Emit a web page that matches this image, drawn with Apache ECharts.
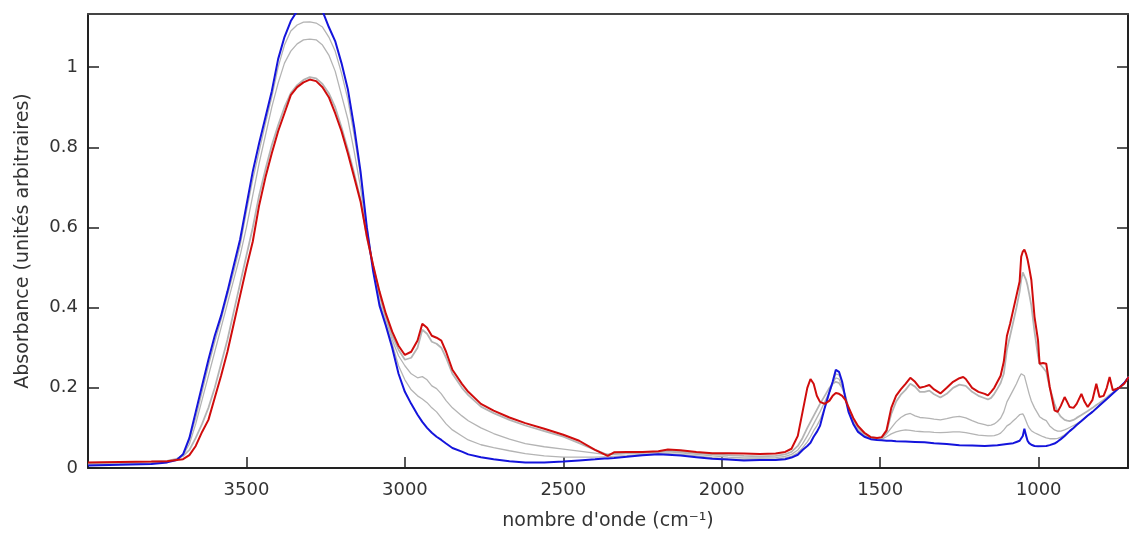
<!DOCTYPE html>
<html>
<head>
<meta charset="utf-8">
<script src="https://cdn.jsdelivr.net/npm/echarts@6/dist/echarts.min.js"></script>
<style>
html,body{margin:0;padding:0;background:#fff;}
#chart{width:1129px;height:537px;}
</style>
</head>
<body>
<div id="chart"></div>
<script>
// ---- data (wavenumber cm-1, absorbance) ----
const xTicks = [1000, 1500, 2000, 2500, 3000, 3500];
const yTicks = [0, 0.2, 0.4, 0.6, 0.8, 1];
const xTitle = "nombre d'onde (cm⁻¹)";
const yTitle = "Absorbance (unités arbitraires)";

const red = [[4000,0.014],[3900,0.015],[3800,0.016],[3750,0.017],[3720,0.02],[3700,0.022],[3680,0.032],[3660,0.055],[3640,0.09],[3620,0.12],[3600,0.175],[3580,0.23],[3560,0.29],[3540,0.36],[3520,0.43],[3500,0.5],[3480,0.565],[3460,0.655],[3440,0.725],[3420,0.785],[3400,0.84],[3380,0.885],[3360,0.93],[3340,0.95],[3320,0.962],[3300,0.969],[3280,0.965],[3260,0.95],[3240,0.925],[3220,0.885],[3200,0.84],[3180,0.785],[3160,0.725],[3140,0.665],[3120,0.578],[3100,0.505],[3080,0.44],[3060,0.385],[3040,0.34],[3020,0.305],[3000,0.282],[2980,0.29],[2960,0.318],[2945,0.36],[2930,0.35],[2915,0.33],[2900,0.325],[2885,0.318],[2870,0.29],[2850,0.245],[2820,0.21],[2800,0.19],[2760,0.16],[2720,0.143],[2670,0.126],[2620,0.112],[2560,0.098],[2500,0.083],[2450,0.068],[2400,0.045],[2370,0.034],[2360,0.03],[2340,0.039],[2300,0.04],[2250,0.04],[2200,0.042],[2170,0.046],[2130,0.044],[2080,0.04],[2030,0.037],[1980,0.037],[1930,0.036],[1880,0.035],[1830,0.036],[1800,0.04],[1780,0.048],[1760,0.08],[1745,0.14],[1730,0.2],[1720,0.222],[1710,0.21],[1700,0.18],[1690,0.165],[1675,0.16],[1660,0.168],[1650,0.18],[1640,0.187],[1630,0.185],[1620,0.18],[1610,0.17],[1600,0.152],[1585,0.125],[1570,0.105],[1550,0.088],[1530,0.077],[1510,0.075],[1495,0.077],[1480,0.094],[1465,0.15],[1450,0.18],[1435,0.196],[1420,0.21],[1405,0.225],[1390,0.215],[1375,0.2],[1360,0.203],[1345,0.207],[1330,0.196],[1310,0.186],[1290,0.2],[1270,0.215],[1250,0.224],[1238,0.227],[1230,0.222],[1210,0.2],[1190,0.19],[1170,0.185],[1160,0.181],[1150,0.19],[1140,0.2],[1130,0.215],[1120,0.23],[1110,0.265],[1100,0.33],[1090,0.36],[1080,0.395],[1070,0.43],[1060,0.465],[1055,0.527],[1050,0.54],[1045,0.545],[1040,0.535],[1035,0.52],[1030,0.5],[1023,0.469],[1013,0.377],[1002,0.319],[997,0.26],[986,0.262],[976,0.26],[965,0.202],[950,0.144],[940,0.14],[930,0.155],[918,0.177],[910,0.165],[902,0.152],[890,0.15],[880,0.16],[865,0.185],[855,0.165],[845,0.152],[830,0.17],[818,0.21],[808,0.177],[795,0.18],[785,0.2],[776,0.227],[766,0.194],[746,0.2],[730,0.21],[716,0.227]];

const blue = [[4000,0.006],[3900,0.008],[3800,0.01],[3750,0.014],[3720,0.02],[3700,0.034],[3680,0.075],[3660,0.14],[3640,0.205],[3620,0.27],[3600,0.33],[3580,0.38],[3560,0.44],[3540,0.505],[3520,0.57],[3500,0.655],[3480,0.74],[3460,0.81],[3440,0.875],[3420,0.94],[3400,1.02],[3380,1.075],[3360,1.115],[3340,1.14],[3320,1.15],[3300,1.152],[3280,1.15],[3260,1.14],[3240,1.1],[3220,1.065],[3200,1.01],[3180,0.945],[3160,0.85],[3140,0.74],[3120,0.6],[3100,0.49],[3080,0.405],[3060,0.355],[3040,0.3],[3020,0.235],[3000,0.19],[2980,0.16],[2960,0.133],[2945,0.115],[2930,0.1],[2915,0.088],[2900,0.078],[2885,0.07],[2870,0.061],[2850,0.05],[2820,0.041],[2800,0.034],[2760,0.027],[2720,0.022],[2670,0.017],[2620,0.014],[2560,0.014],[2500,0.016],[2450,0.019],[2400,0.022],[2370,0.024],[2360,0.024],[2340,0.025],[2300,0.028],[2250,0.032],[2200,0.034],[2170,0.033],[2130,0.031],[2080,0.027],[2030,0.023],[1980,0.021],[1930,0.019],[1880,0.02],[1830,0.02],[1800,0.022],[1780,0.026],[1760,0.033],[1745,0.045],[1730,0.055],[1720,0.063],[1710,0.078],[1700,0.09],[1690,0.105],[1675,0.15],[1660,0.19],[1650,0.215],[1640,0.245],[1636,0.248],[1630,0.24],[1620,0.215],[1610,0.175],[1600,0.14],[1585,0.11],[1570,0.09],[1550,0.078],[1530,0.072],[1510,0.07],[1495,0.069],[1480,0.068],[1465,0.068],[1450,0.067],[1420,0.066],[1390,0.065],[1360,0.064],[1330,0.062],[1290,0.06],[1250,0.057],[1210,0.056],[1170,0.055],[1130,0.057],[1100,0.06],[1080,0.062],[1070,0.065],[1060,0.068],[1055,0.072],[1050,0.08],[1045,0.098],[1040,0.082],[1035,0.068],[1030,0.062],[1023,0.058],[1013,0.055],[1002,0.054],[976,0.055],[965,0.057],[950,0.061],[940,0.066],[930,0.072],[918,0.08],[902,0.092],[890,0.1],[880,0.107],[865,0.117],[845,0.131],[830,0.14],[808,0.156],[785,0.172],[766,0.186],[746,0.2],[730,0.212],[716,0.227]];

const grayA = [[4000,0.013],[3900,0.014],[3800,0.016],[3750,0.018],[3720,0.023],[3700,0.03],[3680,0.045],[3660,0.075],[3640,0.11],[3620,0.15],[3600,0.2],[3580,0.26],[3560,0.32],[3540,0.39],[3520,0.46],[3500,0.53],[3480,0.6],[3460,0.68],[3440,0.745],[3420,0.805],[3400,0.855],[3380,0.9],[3360,0.935],[3340,0.955],[3320,0.968],[3300,0.975],[3280,0.972],[3260,0.958],[3240,0.935],[3220,0.9],[3200,0.85],[3180,0.795],[3160,0.735],[3140,0.67],[3120,0.575],[3100,0.505],[3080,0.435],[3060,0.375],[3040,0.33],[3020,0.295],[3000,0.27],[2980,0.275],[2960,0.3],[2945,0.345],[2930,0.335],[2915,0.315],[2900,0.31],[2885,0.3],[2870,0.275],[2850,0.235],[2820,0.2],[2800,0.182],[2760,0.153],[2720,0.137],[2670,0.12],[2620,0.106],[2560,0.092],[2500,0.078],[2450,0.062],[2400,0.045],[2370,0.036],[2360,0.034],[2340,0.036],[2300,0.038],[2250,0.039],[2200,0.041],[2170,0.043],[2130,0.041],[2080,0.037],[2030,0.034],[1980,0.032],[1930,0.03],[1880,0.029],[1830,0.03],[1800,0.034],[1780,0.04],[1760,0.055],[1745,0.075],[1730,0.1],[1720,0.115],[1710,0.13],[1700,0.145],[1690,0.16],[1675,0.18],[1660,0.2],[1650,0.21],[1640,0.215],[1630,0.212],[1620,0.2],[1610,0.18],[1600,0.15],[1585,0.12],[1570,0.1],[1550,0.085],[1530,0.077],[1510,0.075],[1495,0.076],[1480,0.09],[1465,0.135],[1450,0.165],[1435,0.183],[1420,0.195],[1405,0.21],[1390,0.203],[1375,0.19],[1360,0.19],[1345,0.193],[1330,0.184],[1310,0.176],[1290,0.185],[1270,0.2],[1250,0.208],[1230,0.205],[1210,0.19],[1190,0.18],[1170,0.174],[1160,0.171],[1150,0.175],[1140,0.185],[1130,0.198],[1120,0.212],[1110,0.235],[1100,0.295],[1090,0.33],[1080,0.365],[1070,0.4],[1060,0.44],[1055,0.47],[1050,0.488],[1045,0.485],[1040,0.47],[1035,0.455],[1030,0.435],[1023,0.405],[1013,0.34],[1002,0.28],[997,0.26],[986,0.25],[976,0.24],[965,0.2],[950,0.16],[940,0.14],[930,0.128],[918,0.12],[910,0.118],[902,0.117],[890,0.12],[880,0.125],[865,0.132],[855,0.137],[845,0.142],[830,0.15],[818,0.157],[808,0.162],[795,0.17],[785,0.176],[776,0.182],[766,0.188],[746,0.2],[730,0.212],[716,0.227]];

const grayB = [[4000,0.01],[3900,0.011],[3800,0.013],[3750,0.016],[3720,0.022],[3700,0.032],[3680,0.06],[3660,0.11],[3640,0.17],[3620,0.23],[3600,0.29],[3580,0.35],[3560,0.41],[3540,0.47],[3520,0.53],[3500,0.6],[3480,0.68],[3460,0.76],[3440,0.83],[3420,0.9],[3400,0.96],[3380,1.01],[3360,1.04],[3340,1.058],[3320,1.068],[3300,1.07],[3280,1.068],[3260,1.055],[3240,1.03],[3220,0.99],[3200,0.93],[3180,0.87],[3160,0.79],[3140,0.7],[3120,0.59],[3100,0.5],[3080,0.43],[3060,0.37],[3040,0.32],[3020,0.28],[3000,0.255],[2980,0.235],[2960,0.225],[2945,0.228],[2930,0.22],[2915,0.205],[2900,0.198],[2885,0.185],[2870,0.168],[2850,0.15],[2820,0.13],[2800,0.118],[2760,0.1],[2720,0.086],[2670,0.072],[2620,0.061],[2560,0.053],[2500,0.047],[2450,0.042],[2400,0.037],[2370,0.034],[2360,0.033],[2340,0.034],[2300,0.036],[2250,0.037],[2200,0.039],[2170,0.04],[2130,0.038],[2080,0.034],[2030,0.03],[1980,0.027],[1930,0.025],[1880,0.025],[1830,0.026],[1800,0.029],[1780,0.034],[1760,0.045],[1745,0.06],[1730,0.08],[1720,0.095],[1710,0.11],[1700,0.125],[1690,0.14],[1675,0.165],[1660,0.19],[1650,0.21],[1640,0.225],[1630,0.222],[1620,0.205],[1610,0.178],[1600,0.145],[1585,0.115],[1570,0.095],[1550,0.082],[1530,0.075],[1510,0.073],[1495,0.074],[1480,0.085],[1465,0.1],[1450,0.115],[1435,0.126],[1420,0.133],[1405,0.136],[1390,0.13],[1375,0.126],[1360,0.125],[1345,0.124],[1330,0.122],[1310,0.12],[1290,0.123],[1270,0.127],[1250,0.129],[1230,0.125],[1210,0.118],[1190,0.112],[1170,0.108],[1160,0.106],[1150,0.107],[1140,0.11],[1130,0.116],[1120,0.124],[1110,0.14],[1100,0.165],[1090,0.18],[1080,0.195],[1070,0.21],[1060,0.228],[1055,0.235],[1050,0.235],[1045,0.23],[1040,0.215],[1035,0.2],[1030,0.185],[1023,0.167],[1013,0.15],[1002,0.135],[997,0.128],[986,0.122],[976,0.118],[965,0.105],[950,0.095],[940,0.092],[930,0.092],[918,0.095],[910,0.098],[902,0.101],[890,0.106],[880,0.11],[865,0.118],[845,0.131],[830,0.14],[808,0.156],[785,0.172],[766,0.186],[746,0.2],[730,0.212],[716,0.227]];

const grayC = [[4000,0.008],[3900,0.009],[3800,0.011],[3750,0.015],[3720,0.022],[3700,0.034],[3680,0.07],[3660,0.125],[3640,0.19],[3620,0.255],[3600,0.315],[3580,0.37],[3560,0.43],[3540,0.49],[3520,0.555],[3500,0.64],[3480,0.72],[3460,0.79],[3440,0.86],[3420,0.925],[3400,1.0],[3380,1.055],[3360,1.09],[3340,1.105],[3320,1.112],[3300,1.113],[3280,1.11],[3260,1.1],[3240,1.075],[3220,1.04],[3200,0.985],[3180,0.92],[3160,0.83],[3140,0.73],[3120,0.6],[3100,0.5],[3080,0.415],[3060,0.36],[3040,0.31],[3020,0.255],[3000,0.22],[2980,0.195],[2960,0.18],[2945,0.172],[2930,0.163],[2915,0.15],[2900,0.14],[2885,0.125],[2870,0.11],[2850,0.095],[2820,0.08],[2800,0.07],[2760,0.058],[2720,0.051],[2670,0.043],[2620,0.036],[2560,0.03],[2500,0.027],[2450,0.027],[2400,0.027],[2370,0.028],[2360,0.028],[2340,0.029],[2300,0.031],[2250,0.034],[2200,0.036],[2170,0.036],[2130,0.034],[2080,0.03],[2030,0.026],[1980,0.023],[1930,0.021],[1880,0.022],[1830,0.022],[1800,0.025],[1780,0.029],[1760,0.038],[1745,0.05],[1730,0.065],[1720,0.078],[1710,0.093],[1700,0.105],[1690,0.12],[1675,0.15],[1660,0.19],[1650,0.212],[1640,0.235],[1630,0.232],[1620,0.213],[1610,0.178],[1600,0.142],[1585,0.112],[1570,0.092],[1550,0.08],[1530,0.074],[1510,0.072],[1495,0.072],[1480,0.078],[1465,0.085],[1450,0.09],[1435,0.093],[1420,0.095],[1405,0.094],[1390,0.092],[1375,0.091],[1360,0.09],[1345,0.09],[1330,0.089],[1310,0.088],[1290,0.089],[1270,0.09],[1250,0.09],[1230,0.088],[1210,0.085],[1190,0.082],[1170,0.081],[1160,0.08],[1150,0.08],[1140,0.081],[1130,0.083],[1120,0.087],[1110,0.095],[1100,0.105],[1090,0.11],[1080,0.118],[1070,0.125],[1060,0.133],[1055,0.136],[1050,0.135],[1045,0.128],[1040,0.118],[1035,0.108],[1030,0.1],[1023,0.093],[1013,0.088],[1002,0.084],[997,0.082],[986,0.078],[976,0.075],[965,0.073],[950,0.073],[940,0.074],[930,0.077],[918,0.083],[910,0.088],[902,0.093],[890,0.1],[880,0.107],[865,0.117],[845,0.131],[830,0.14],[808,0.156],[785,0.172],[766,0.186],[746,0.2],[730,0.212],[716,0.227]];

// ---- chart ----
const XMIN = 718, XMAX = 4000, YMIN = 0, YMAX = 1.1325;
const FONT = 'DejaVu Sans';
const axisColor = '#222';
const labelColor = '#333';
const plain = v => String(v);

const chart = echarts.init(document.getElementById('chart'), null, {renderer: 'canvas'});

function lineSeries(name, data, color, width) {
  return {
    name: name, type: 'line', data: data, showSymbol: false, symbol: 'none',
    xAxisIndex: 0, yAxisIndex: 0, clip: true, animation: false,
    lineStyle: {color: color, width: width}, emphasis: {disabled: true}
  };
}

chart.setOption({
  animation: false,
  backgroundColor: '#fff',
  grid: {left: 88, right: 1, top: 14, bottom: 69, containLabel: false, outerBoundsMode: 'none'},
  xAxis: [{
    type: 'value', inverse: true, min: XMIN, max: XMAX, position: 'bottom',
    axisLine: {show: true, onZero: false, lineStyle: {color: axisColor, width: 2}},
    axisTick: {show: true, inside: true, length: 11, customValues: xTicks, lineStyle: {color: axisColor, width: 1.5}},
    axisLabel: {show: true, customValues: xTicks, formatter: plain, margin: 13, color: labelColor, fontSize: 18, fontFamily: FONT},
    splitLine: {show: false},
    name: xTitle, nameLocation: 'middle', nameGap: 44,
    nameTextStyle: {color: labelColor, fontSize: 19, fontFamily: FONT}
  }, {
    type: 'value', inverse: true, min: XMIN, max: XMAX, position: 'top',
    axisLine: {show: true, onZero: false, lineStyle: {color: '#444', width: 2}},
    axisTick: {show: false}, axisLabel: {show: false}, splitLine: {show: false}
  }],
  yAxis: [{
    type: 'value', min: YMIN, max: YMAX, position: 'left',
    axisLine: {show: true, onZero: false, lineStyle: {color: axisColor, width: 2}},
    axisTick: {show: true, inside: true, length: 11, customValues: yTicks, lineStyle: {color: axisColor, width: 1.5}},
    axisLabel: {show: true, customValues: yTicks, formatter: plain, margin: 10, color: labelColor, fontSize: 18, fontFamily: FONT},
    splitLine: {show: false},
    name: yTitle, nameLocation: 'middle', nameGap: 55,
    nameTextStyle: {color: labelColor, fontSize: 19, fontFamily: FONT}
  }, {
    type: 'value', min: YMIN, max: YMAX, position: 'right',
    axisLine: {show: true, onZero: false, lineStyle: {color: axisColor, width: 2}},
    axisTick: {show: true, inside: true, length: 11, customValues: yTicks, lineStyle: {color: axisColor, width: 1.5}},
    axisLabel: {show: false}, splitLine: {show: false}
  }],
  series: [
    lineSeries('gris 3', grayC, '#b4b4b4', 1.3),
    lineSeries('gris 2', grayB, '#b4b4b4', 1.3),
    lineSeries('gris 1', grayA, '#b4b4b4', 1.8),
    lineSeries('bleu', blue, '#1414dc', 2),
    lineSeries('rouge', red, '#d00c0c', 2)
  ]
});
</script>
</body>
</html>
